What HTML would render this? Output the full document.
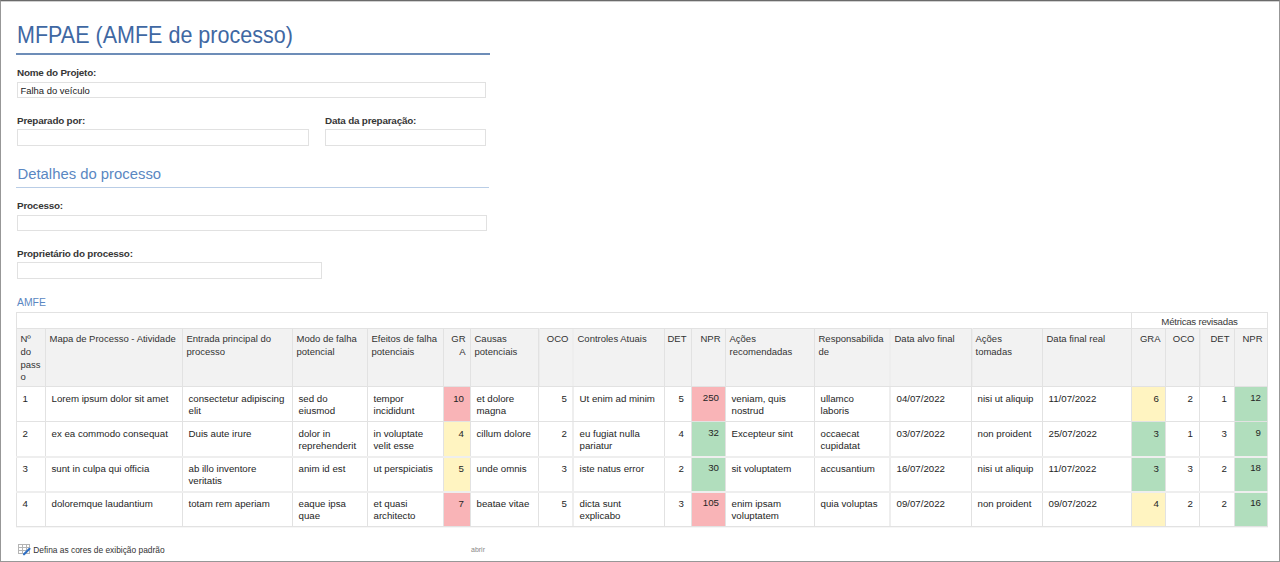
<!DOCTYPE html><html><head><meta charset="utf-8"><title>MFPAE (AMFE de processo)</title><style>
*{margin:0;padding:0;box-sizing:border-box}
html,body{width:1280px;height:562px;overflow:hidden;background:#fff}
body{position:relative;font-family:"Liberation Sans",sans-serif;color:#333}
.a{position:absolute;white-space:nowrap}
.frame{position:absolute;left:0;top:0;width:1280px;height:562px;border:1px solid #979797;border-top-color:#6a6a6a;pointer-events:none}
.frame2{position:absolute;left:1px;top:1px;width:1278px;height:1px;background:#d0d0d0}
.lbl{position:absolute;white-space:nowrap;font-size:9.9px;font-weight:bold;color:#363636;line-height:12px;letter-spacing:-0.2px}
.inp{position:absolute;border:1px solid #e1e1e1;background:#fff}
.vl{position:absolute;width:1px;background:#e2e2e2}
.hl{position:absolute;height:1px;background:#e2e2e2}
.lt{background:#eeeeee}
.c{position:absolute;font-size:9.7px;white-space:nowrap;color:#252525}
.h{line-height:12.8px;color:#333;font-size:9.5px}
.d{line-height:12.5px}
.hd{background:#f2f2f2}
.r{text-align:right}
.p{background:#f9b4b7}.y{background:#fff4c1}.g{background:#b1debd}
</style></head><body>
<div class="a" style="left:17.3px;top:19.89px;font-size:23.4px;line-height:30px;color:#3f68a3;transform:scaleX(0.92);transform-origin:0 0">MFPAE (AMFE de processo)</div>
<div class="a" style="left:16px;top:53px;width:474px;height:2px;background:#6d8db8"></div>
<div class="lbl" style="left:17px;top:66.57px">Nome do Projeto:</div>
<div class="inp" style="left:17px;top:82px;width:469px;height:16px"></div>
<div class="a" style="left:20.5px;top:85.03px;font-size:9.45px;line-height:12px;color:#222">Falha do veículo</div>
<div class="lbl" style="left:17px;top:114.57px">Preparado por:</div>
<div class="inp" style="left:17px;top:129px;width:292px;height:17px"></div>
<div class="lbl" style="left:325px;top:114.57px">Data da preparação:</div>
<div class="inp" style="left:325px;top:129px;width:161px;height:17px"></div>
<div class="a" style="left:17.5px;top:163.85px;font-size:14.85px;line-height:20px;color:#5a87c2">Detalhes do processo</div>
<div class="a" style="left:16px;top:187px;width:473px;height:1px;background:#b9cde6"></div>
<div class="lbl" style="left:17px;top:199.57px">Processo:</div>
<div class="inp" style="left:17px;top:215px;width:470px;height:16px"></div>
<div class="lbl" style="left:17px;top:247.57px">Proprietário do processo:</div>
<div class="inp" style="left:17px;top:262px;width:305px;height:17px"></div>
<div class="a" style="left:17px;top:295.90px;font-size:10.4px;line-height:14px;color:#5a87c2">AMFE</div>
<div class="a hd" style="left:16px;top:328px;width:1251px;height:58px"></div>
<div class="a p" style="left:444px;top:387px;width:26px;height:34px"></div>
<div class="a p" style="left:692px;top:387px;width:33px;height:34px"></div>
<div class="a y" style="left:1132px;top:387px;width:33px;height:34px"></div>
<div class="a g" style="left:1235px;top:387px;width:32px;height:34px"></div>
<div class="a y" style="left:444px;top:422px;width:26px;height:34px"></div>
<div class="a g" style="left:692px;top:422px;width:33px;height:34px"></div>
<div class="a g" style="left:1132px;top:422px;width:33px;height:34px"></div>
<div class="a g" style="left:1235px;top:422px;width:32px;height:34px"></div>
<div class="a y" style="left:444px;top:458px;width:26px;height:33px"></div>
<div class="a g" style="left:692px;top:458px;width:33px;height:33px"></div>
<div class="a g" style="left:1132px;top:458px;width:33px;height:33px"></div>
<div class="a g" style="left:1235px;top:458px;width:32px;height:33px"></div>
<div class="a p" style="left:444px;top:493px;width:26px;height:33px"></div>
<div class="a p" style="left:692px;top:493px;width:33px;height:33px"></div>
<div class="a y" style="left:1132px;top:493px;width:33px;height:33px"></div>
<div class="a g" style="left:1235px;top:493px;width:32px;height:33px"></div>
<div class="vl" style="left:16px;top:312px;height:215px"></div>
<div class="vl" style="left:45px;top:328px;height:199px"></div>
<div class="vl" style="left:182px;top:328px;height:199px"></div>
<div class="vl" style="left:292px;top:328px;height:199px"></div>
<div class="vl" style="left:367px;top:328px;height:199px"></div>
<div class="vl" style="left:443px;top:328px;height:199px"></div>
<div class="vl" style="left:470px;top:328px;height:199px"></div>
<div class="vl" style="left:538px;top:328px;height:199px"></div>
<div class="vl lt" style="left:572px;top:328px;height:199px;width:2px"></div>
<div class="vl" style="left:664px;top:328px;height:199px"></div>
<div class="vl" style="left:691px;top:328px;height:199px"></div>
<div class="vl" style="left:725px;top:328px;height:199px"></div>
<div class="vl" style="left:814px;top:328px;height:199px"></div>
<div class="vl lt" style="left:889px;top:328px;height:199px;width:2px"></div>
<div class="vl" style="left:971px;top:328px;height:199px"></div>
<div class="vl" style="left:1042px;top:328px;height:199px"></div>
<div class="vl" style="left:1131px;top:312px;height:215px"></div>
<div class="vl" style="left:1165px;top:328px;height:199px"></div>
<div class="vl" style="left:1199px;top:328px;height:199px"></div>
<div class="vl" style="left:1234px;top:328px;height:199px"></div>
<div class="vl" style="left:1267px;top:312px;height:215px"></div>
<div class="hl" style="left:16px;top:312px;width:1252px"></div>
<div class="hl" style="left:16px;top:328px;width:1252px"></div>
<div class="hl" style="left:16px;top:386px;width:1252px"></div>
<div class="hl" style="left:16px;top:421px;width:1252px"></div>
<div class="hl lt" style="left:16px;top:456px;width:1252px;height:2px"></div>
<div class="hl lt" style="left:16px;top:491px;width:1252px;height:2px"></div>
<div class="hl" style="left:16px;top:526px;width:1252px"></div>
<div class="a" style="left:16px;top:527px;width:1252px;height:1px;background:#f6f6f6"></div>
<div class="a" style="left:539px;top:328px;width:1px;height:58px;background:#ececec"></div>
<div class="a" style="left:972px;top:328px;width:1px;height:58px;background:#ececec"></div>
<div class="a" style="left:1200px;top:328px;width:1px;height:58px;background:#ececec"></div>
<div class="c h" style="left:1131px;top:316.14px;width:137px;text-align:center;color:#3a3a3a;font-size:9.7px;letter-spacing:-0.25px">Métricas revisadas</div>
<div class="c h" style="left:20.5px;top:333.01px">Nº<br>do<br>pass<br>o</div>
<div class="c h" style="left:49.5px;top:333.01px">Mapa de Processo - Atividade</div>
<div class="c h" style="left:186.5px;top:333.01px">Entrada principal do<br>processo</div>
<div class="c h" style="left:296.5px;top:333.01px">Modo de falha<br>potencial</div>
<div class="c h" style="left:371.5px;top:333.01px">Efeitos de falha<br>potenciais</div>
<div class="c h r" style="left:443px;top:333.01px;width:22.5px">GR<br>A</div>
<div class="c h" style="left:474.5px;top:333.01px">Causas<br>potenciais</div>
<div class="c h r" style="left:538px;top:333.01px;width:30.5px">OCO</div>
<div class="c h" style="left:577.5px;top:333.01px">Controles Atuais</div>
<div class="c h r" style="left:664px;top:333.01px;width:22.5px">DET</div>
<div class="c h r" style="left:691px;top:333.01px;width:29.5px">NPR</div>
<div class="c h" style="left:729.5px;top:333.01px">Ações<br>recomendadas</div>
<div class="c h" style="left:818.5px;top:333.01px">Responsabilida<br>de</div>
<div class="c h" style="left:894.5px;top:333.01px">Data alvo final</div>
<div class="c h" style="left:975.5px;top:333.01px">Ações<br>tomadas</div>
<div class="c h" style="left:1046.5px;top:333.01px">Data final real</div>
<div class="c h r" style="left:1131px;top:333.01px;width:29.5px">GRA</div>
<div class="c h r" style="left:1165px;top:333.01px;width:29.5px">OCO</div>
<div class="c h r" style="left:1199px;top:333.01px;width:30.5px">DET</div>
<div class="c h r" style="left:1234px;top:333.01px;width:28.5px">NPR</div>
<div class="c d" style="left:22.5px;top:392.89px">1</div>
<div class="c d" style="left:51.5px;top:392.89px">Lorem ipsum dolor sit amet</div>
<div class="c d" style="left:188.5px;top:392.89px">consectetur adipiscing<br>elit</div>
<div class="c d" style="left:298.5px;top:392.89px">sed do<br>eiusmod</div>
<div class="c d" style="left:373.5px;top:392.89px">tempor<br>incididunt</div>
<div class="c d r" style="left:443px;top:392.89px;width:21px">10</div>
<div class="c d" style="left:476.5px;top:392.89px">et dolore<br>magna</div>
<div class="c d r" style="left:538px;top:392.89px;width:29px">5</div>
<div class="c d" style="left:579.5px;top:392.89px">Ut enim ad minim</div>
<div class="c d r" style="left:664px;top:392.89px;width:20px">5</div>
<div class="c d r" style="left:691px;top:391.89px;width:28px">250</div>
<div class="c d" style="left:731.5px;top:392.89px">veniam, quis<br>nostrud</div>
<div class="c d" style="left:820.5px;top:392.89px">ullamco<br>laboris</div>
<div class="c d" style="left:896.5px;top:392.89px">04/07/2022</div>
<div class="c d" style="left:977.5px;top:392.89px">nisi ut aliquip</div>
<div class="c d" style="left:1048.5px;top:392.89px">11/07/2022</div>
<div class="c d r" style="left:1131px;top:392.89px;width:28px">6</div>
<div class="c d r" style="left:1165px;top:392.89px;width:28px">2</div>
<div class="c d r" style="left:1199px;top:392.89px;width:28px">1</div>
<div class="c d r" style="left:1234px;top:391.89px;width:27px">12</div>
<div class="c d" style="left:22.5px;top:427.89px">2</div>
<div class="c d" style="left:51.5px;top:427.89px">ex ea commodo consequat</div>
<div class="c d" style="left:188.5px;top:427.89px">Duis aute irure</div>
<div class="c d" style="left:298.5px;top:427.89px">dolor in<br>reprehenderit</div>
<div class="c d" style="left:373.5px;top:427.89px">in voluptate<br>velit esse</div>
<div class="c d r" style="left:443px;top:427.89px;width:21px">4</div>
<div class="c d" style="left:476.5px;top:427.89px">cillum dolore</div>
<div class="c d r" style="left:538px;top:427.89px;width:29px">2</div>
<div class="c d" style="left:579.5px;top:427.89px">eu fugiat nulla<br>pariatur</div>
<div class="c d r" style="left:664px;top:427.89px;width:20px">4</div>
<div class="c d r" style="left:691px;top:426.89px;width:28px">32</div>
<div class="c d" style="left:731.5px;top:427.89px">Excepteur sint</div>
<div class="c d" style="left:820.5px;top:427.89px">occaecat<br>cupidatat</div>
<div class="c d" style="left:896.5px;top:427.89px">03/07/2022</div>
<div class="c d" style="left:977.5px;top:427.89px">non proident</div>
<div class="c d" style="left:1048.5px;top:427.89px">25/07/2022</div>
<div class="c d r" style="left:1131px;top:427.89px;width:28px">3</div>
<div class="c d r" style="left:1165px;top:427.89px;width:28px">1</div>
<div class="c d r" style="left:1199px;top:427.89px;width:28px">3</div>
<div class="c d r" style="left:1234px;top:426.89px;width:27px">9</div>
<div class="c d" style="left:22.5px;top:462.89px">3</div>
<div class="c d" style="left:51.5px;top:462.89px">sunt in culpa qui officia</div>
<div class="c d" style="left:188.5px;top:462.89px">ab illo inventore<br>veritatis</div>
<div class="c d" style="left:298.5px;top:462.89px">anim id est</div>
<div class="c d" style="left:373.5px;top:462.89px">ut perspiciatis</div>
<div class="c d r" style="left:443px;top:462.89px;width:21px">5</div>
<div class="c d" style="left:476.5px;top:462.89px">unde omnis</div>
<div class="c d r" style="left:538px;top:462.89px;width:29px">3</div>
<div class="c d" style="left:579.5px;top:462.89px">iste natus error</div>
<div class="c d r" style="left:664px;top:462.89px;width:20px">2</div>
<div class="c d r" style="left:691px;top:461.89px;width:28px">30</div>
<div class="c d" style="left:731.5px;top:462.89px">sit voluptatem</div>
<div class="c d" style="left:820.5px;top:462.89px">accusantium</div>
<div class="c d" style="left:896.5px;top:462.89px">16/07/2022</div>
<div class="c d" style="left:977.5px;top:462.89px">nisi ut aliquip</div>
<div class="c d" style="left:1048.5px;top:462.89px">11/07/2022</div>
<div class="c d r" style="left:1131px;top:462.89px;width:28px">3</div>
<div class="c d r" style="left:1165px;top:462.89px;width:28px">3</div>
<div class="c d r" style="left:1199px;top:462.89px;width:28px">2</div>
<div class="c d r" style="left:1234px;top:461.89px;width:27px">18</div>
<div class="c d" style="left:22.5px;top:497.89px">4</div>
<div class="c d" style="left:51.5px;top:497.89px">doloremque laudantium</div>
<div class="c d" style="left:188.5px;top:497.89px">totam rem aperiam</div>
<div class="c d" style="left:298.5px;top:497.89px">eaque ipsa<br>quae</div>
<div class="c d" style="left:373.5px;top:497.89px">et quasi<br>architecto</div>
<div class="c d r" style="left:443px;top:497.89px;width:21px">7</div>
<div class="c d" style="left:476.5px;top:497.89px">beatae vitae</div>
<div class="c d r" style="left:538px;top:497.89px;width:29px">5</div>
<div class="c d" style="left:579.5px;top:497.89px">dicta sunt<br>explicabo</div>
<div class="c d r" style="left:664px;top:497.89px;width:20px">3</div>
<div class="c d r" style="left:691px;top:496.89px;width:28px">105</div>
<div class="c d" style="left:731.5px;top:497.89px">enim ipsam<br>voluptatem</div>
<div class="c d" style="left:820.5px;top:497.89px">quia voluptas</div>
<div class="c d" style="left:896.5px;top:497.89px">09/07/2022</div>
<div class="c d" style="left:977.5px;top:497.89px">non proident</div>
<div class="c d" style="left:1048.5px;top:497.89px">09/07/2022</div>
<div class="c d r" style="left:1131px;top:497.89px;width:28px">4</div>
<div class="c d r" style="left:1165px;top:497.89px;width:28px">2</div>
<div class="c d r" style="left:1199px;top:497.89px;width:28px">2</div>
<div class="c d r" style="left:1234px;top:496.89px;width:27px">16</div>
<svg class="a" style="left:17px;top:543px" width="14" height="13" viewBox="0 0 14 13">
<g fill="none" stroke="#b4b4b4" stroke-width="1"><rect x="1.5" y="1.5" width="11" height="9"/><path d="M1.5 4.5H12.5M1.5 7.5H12.5M5.5 1.5V10.5M9.5 1.5V10.5"/></g>
<path d="M7 11.3 L12.5 5.8" stroke="#2f6fc4" stroke-width="2.1" stroke-linecap="round"/></svg>
<div class="a" style="left:33.3px;top:544.79px;font-size:8.4px;line-height:11px;color:#333">Defina as cores de exibição padrão</div>
<div class="a" style="left:471px;top:545.07px;font-size:7px;line-height:9px;color:#888">abrir</div>
<div class="frame"></div><div class="frame2"></div>
</body></html>
